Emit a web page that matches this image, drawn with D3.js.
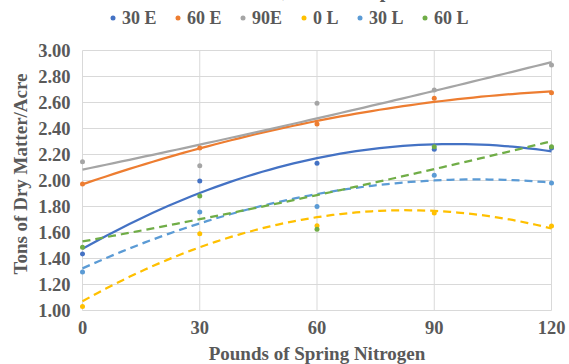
<!DOCTYPE html>
<html>
<head>
<meta charset="utf-8">
<script src="https://cdn.jsdelivr.net/npm/d3@7"></script>
<style>
  body { margin: 0; background: #fff; }
  svg text { font-family: "Liberation Serif", "Times New Roman", serif; font-weight: bold; fill: #595959; }
</style>
</head>
<body>
<div id="chart"></div>
<script>
// nitrogen rates (x) and yields per series
const nitrogen = [0, 30, 60, 90, 120];
const seriesNames = ["30 E", "60 E", "90E", "0 L", "30 L", "60 L"];
const e30 = [1.435, 1.996, 2.132, 2.24, 2.25];
const e60 = [1.973, 2.25, 2.435, 2.632, 2.675];
const e90 = [2.145, 2.114, 2.594, 2.696, 2.888];
const l0 = [1.03, 1.59, 1.652, 1.75, 1.65];
const l30 = [1.296, 1.758, 1.80, 2.04, 1.98];
const l60 = [1.486, 1.88, 1.625, 2.26, 2.26];
const yTicks = [1.00, 1.20, 1.40, 1.60, 1.80, 2.00, 2.20, 2.40, 2.60, 2.80, 3.00];

const colors = ["#4472C4", "#ED7D31", "#A5A5A5", "#FFC000", "#5B9BD5", "#70AD47"];
const dashed = [false, false, false, true, true, true];
const values = [e30, e60, e90, l0, l30, l60];

const width = 569, height = 364;
const margin = {top: 50.5, right: 17.5, bottom: 53.5, left: 82.5};

const svg = d3.select("#chart").append("svg")
  .attr("width", width)
  .attr("height", height);

const x = d3.scaleLinear().domain([0, 120]).range([margin.left, width - margin.right]);
const y = d3.scaleLinear().domain([1, 3]).range([height - margin.bottom, margin.top]);

// gridlines
svg.append("g")
  .selectAll("line")
  .data(yTicks)
  .join("line")
  .attr("x1", x(0)).attr("x2", x(120))
  .attr("y1", d => y(d)).attr("y2", d => y(d))
  .attr("stroke", "#d9d9d9");
svg.append("g")
  .selectAll("line")
  .data(nitrogen)
  .join("line")
  .attr("x1", d => x(d)).attr("x2", d => x(d))
  .attr("y1", y(1)).attr("y2", y(3))
  .attr("stroke", "#d9d9d9");

// tick labels
svg.append("g")
  .selectAll("text")
  .data(yTicks)
  .join("text")
  .attr("x", x(0) - 12)
  .attr("y", d => y(d))
  .attr("dy", "0.35em")
  .attr("text-anchor", "end")
  .style("font-size", "18.5px")
  .text(d => d.toFixed(2));
svg.append("g")
  .selectAll("text")
  .data(nitrogen)
  .join("text")
  .attr("x", d => x(d))
  .attr("y", 334)
  .attr("text-anchor", "middle")
  .style("font-size", "18.5px")
  .text(d => d);

// axis titles
svg.append("text")
  .attr("x", (x(0) + x(120)) / 2)
  .attr("y", 360)
  .attr("text-anchor", "middle")
  .style("font-size", "19px")
  .text("Pounds of Spring Nitrogen");
svg.append("text")
  .attr("transform", `translate(27, ${174}) rotate(-90)`)
  .attr("text-anchor", "middle")
  .style("font-size", "19px")
  .text("Tons of Dry Matter/Acre");

// chart title, only its descenders reach the visible area
svg.append("text")
  .attr("x", 166)
  .attr("y", -3)
  .style("font-size", "20px")
  .text("Total Harvest, Nitrate Top Dress");

// second order polynomial trendline (least squares)
function polyFit(xs, ys) {
  const s = [0, 0, 0, 0, 0], t = [0, 0, 0];
  xs.forEach((xv, i) => {
    for (let k = 0; k < 5; k++) s[k] += Math.pow(xv, k);
    for (let k = 0; k < 3; k++) t[k] += Math.pow(xv, k) * ys[i];
  });
  const m = [[s[0], s[1], s[2], t[0]], [s[1], s[2], s[3], t[1]], [s[2], s[3], s[4], t[2]]];
  for (let i = 0; i < 3; i++) {
    for (let j = i + 1; j < 3; j++) {
      const f = m[j][i] / m[i][i];
      for (let k = i; k < 4; k++) m[j][k] -= f * m[i][k];
    }
  }
  const c = [0, 0, 0];
  for (let i = 2; i >= 0; i--) {
    let sum = m[i][3];
    for (let k = i + 1; k < 3; k++) sum -= m[i][k] * c[k];
    c[i] = sum / m[i][i];
  }
  return xv => c[0] + c[1] * xv + c[2] * xv * xv;
}

const line = d3.line().x(d => x(d[0])).y(d => y(d[1]));
const steps = d3.range(0, 121, 2);

values.forEach((vals, i) => {
  const f = polyFit(nitrogen, vals);
  svg.append("path")
    .attr("d", line(steps.map(s => [s, f(s)])))
    .attr("fill", "none")
    .attr("stroke", colors[i])
    .attr("stroke-width", 2.25)
    .attr("stroke-dasharray", dashed[i] ? "8,5" : null);
});

values.forEach((vals, i) => {
  svg.append("g")
    .selectAll("circle")
    .data(vals)
    .join("circle")
    .attr("cx", (d, j) => x(nitrogen[j]))
    .attr("cy", d => y(d))
    .attr("r", 2.5)
    .attr("fill", colors[i]);
});

// legend
const legendX = [113, 178, 243, 304, 360, 425];
const legend = svg.append("g");
seriesNames.forEach((name, i) => {
  legend.append("circle")
    .attr("cx", legendX[i])
    .attr("cy", 18)
    .attr("r", 2.5)
    .attr("fill", colors[i]);
  legend.append("text")
    .attr("x", legendX[i] + 9)
    .attr("y", 24)
    .style("font-size", "18px")
    .text(name);
});
</script>
</body>
</html>
